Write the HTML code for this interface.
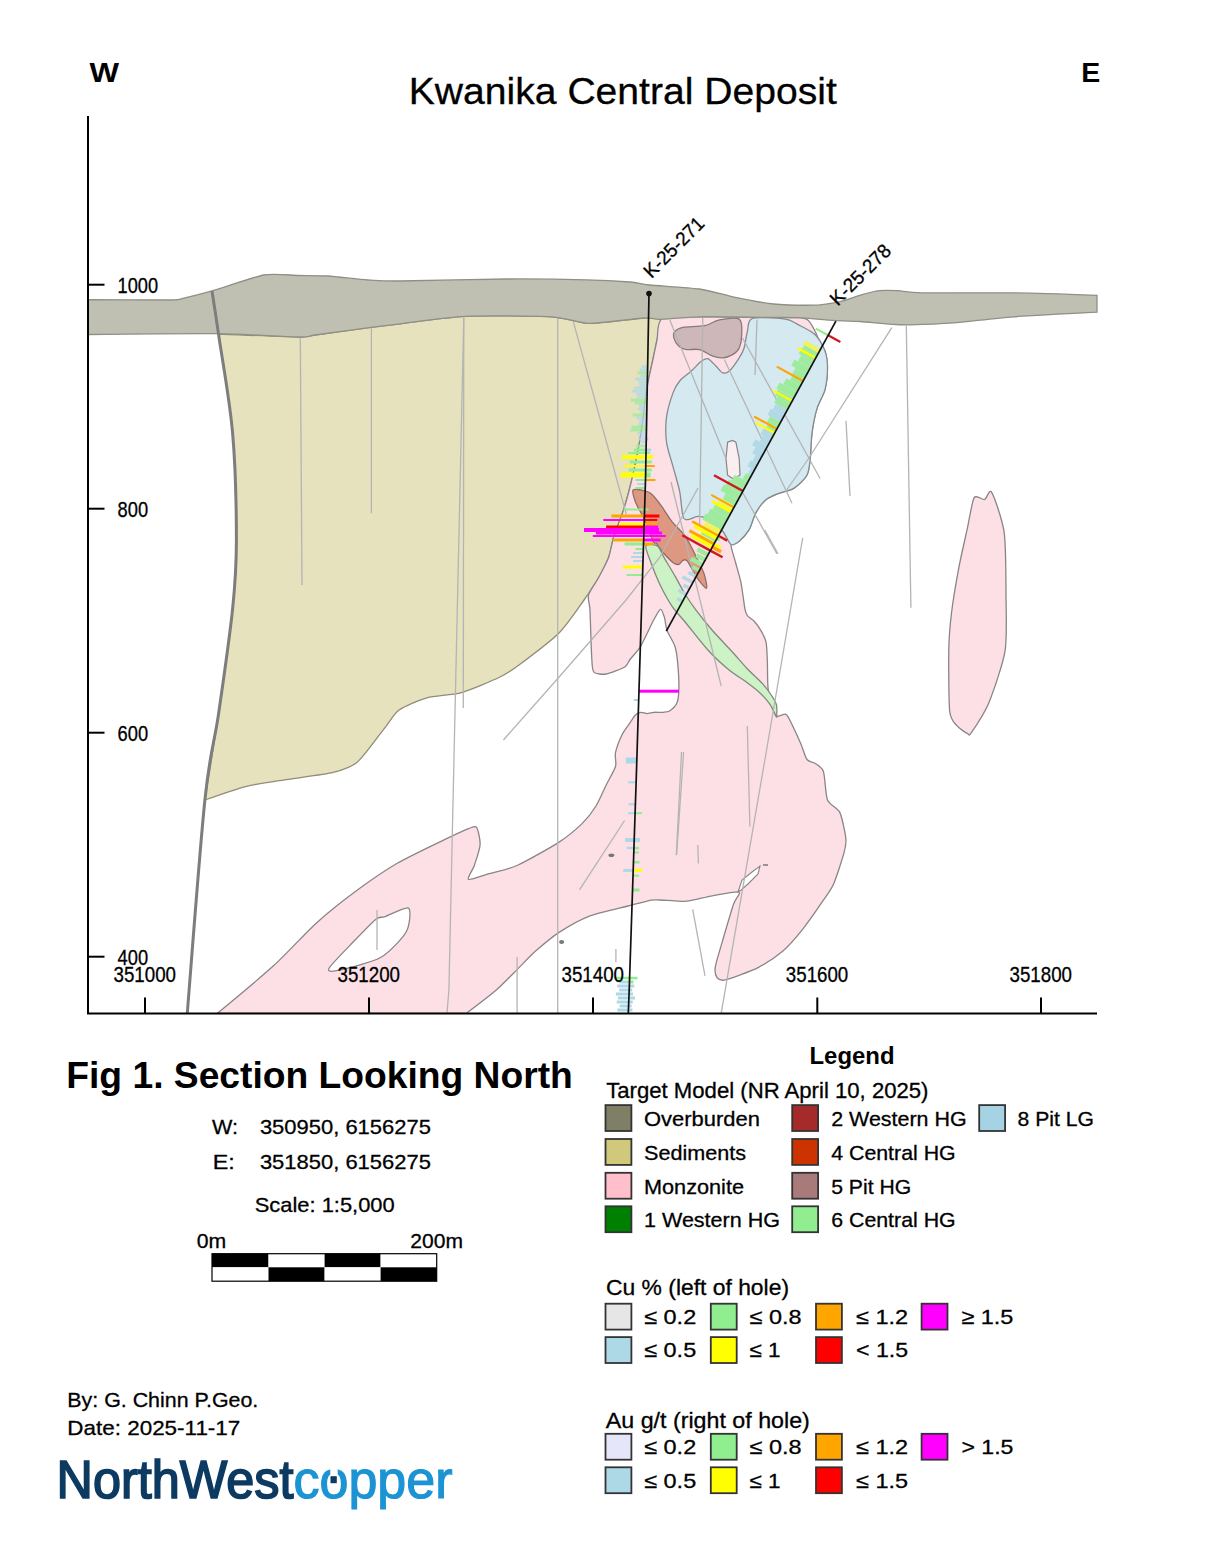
<!DOCTYPE html>
<html><head><meta charset="utf-8"><style>
html,body{margin:0;padding:0;background:#fff;}
body{width:1211px;height:1567px;overflow:hidden;}
svg{display:block;}
text{font-family:"Liberation Sans",sans-serif;}
</style></head><body>
<svg width="1211" height="1567" viewBox="0 0 1211 1567">
<rect width="1211" height="1567" fill="#fff"/>
<path d="M218.5,334.0 C218.5,334.0 286.9,336.9 299.0,337.0 C311.1,337.1 306.0,336.2 315.0,335.0 C324.0,333.8 360.4,328.8 371.0,327.4 C381.6,326.0 388.2,325.2 400.0,323.8 C411.8,322.4 446.0,317.2 465.0,316.3 C484.0,315.4 536.5,315.9 552.0,316.8 C567.5,317.7 577.5,323.2 589.0,323.4 C600.5,323.5 634.9,318.6 644.0,318.0 C653.1,317.4 662.0,318.8 662.0,318.8 C662.0,318.8 658.1,334.9 657.0,340.0 C655.9,345.1 654.1,353.9 652.8,360.0 C651.5,366.1 648.0,381.4 646.7,389.0 C645.5,396.6 643.9,413.4 642.8,421.0 C641.7,428.6 639.7,441.9 638.2,449.6 C636.7,457.4 632.9,475.3 631.0,483.0 C629.1,490.7 625.2,504.8 623.0,511.5 C620.8,518.2 615.5,531.2 613.7,537.0 C611.9,542.8 610.5,552.4 608.6,557.5 C606.7,562.6 601.5,572.7 598.4,578.0 C595.3,583.3 588.9,593.1 584.0,600.0 C579.1,606.9 567.1,624.9 559.0,633.0 C550.9,641.1 526.4,659.5 519.0,665.0 C511.6,670.5 507.2,673.5 500.0,677.0 C492.8,680.5 470.6,690.0 461.5,692.6 C452.4,695.2 434.7,695.6 426.9,697.8 C419.1,700.0 404.3,706.3 399.1,710.0 C393.9,713.7 390.4,720.8 385.2,727.3 C380.0,733.8 364.0,756.4 357.5,762.0 C351.0,767.6 341.9,770.2 333.2,772.4 C324.5,774.6 298.9,777.6 288.1,779.3 C277.3,781.0 256.9,783.7 246.5,786.3 C236.1,788.9 204.9,800.0 204.9,800.0 C204.9,800.0 215.2,736.9 218.7,713.0 C222.2,689.1 230.4,630.6 232.6,609.0 C234.8,587.4 236.4,562.0 236.4,540.0 C236.4,518.0 234.8,458.8 232.6,433.0 C230.4,407.2 218.5,334.0 218.5,334.0Z" fill="#e6e2bd" stroke="#8f8c78" stroke-width="1.3"/>
<path d="M662.0,318.8 C667.3,315.9 689.8,317.1 699.4,316.8 C709.0,316.6 726.7,316.7 739.0,316.8 C751.3,316.9 789.3,317.2 798.0,317.7 C806.7,318.2 806.4,319.0 808.5,320.7 C810.6,322.4 813.8,328.7 815.2,331.5 C816.7,334.3 818.9,340.5 820.1,343.0 C821.3,345.5 824.2,348.2 825.1,351.3 C826.0,354.4 827.5,363.1 827.5,367.8 C827.5,372.6 826.4,384.1 825.1,389.3 C823.8,394.5 818.4,403.5 816.8,409.1 C815.1,414.7 812.7,427.7 811.9,433.9 C811.1,440.1 810.8,453.4 810.2,458.6 C809.6,463.8 809.0,471.5 806.9,475.2 C804.8,478.9 797.2,486.1 793.7,488.4 C790.2,490.7 782.3,491.9 778.8,493.3 C775.3,494.7 768.5,497.4 765.6,499.9 C762.7,502.4 757.8,509.4 755.7,513.1 C753.6,516.8 751.2,526.2 749.1,529.7 C747.0,533.2 741.5,539.4 739.2,541.2 C736.9,543.1 731.4,541.8 731.0,544.5 C730.6,547.2 734.5,558.2 735.7,563.0 C737.0,567.8 739.8,577.0 741.0,582.8 C742.2,588.6 744.2,605.2 745.0,609.3 C745.8,613.4 746.5,614.4 747.6,615.9 C748.8,617.4 752.6,619.4 754.2,621.2 C755.9,623.0 759.3,627.8 760.8,630.4 C762.3,633.0 765.3,638.3 766.1,642.3 C766.9,646.3 767.1,656.3 767.4,662.1 C767.6,667.9 767.4,682.7 768.1,688.5 C768.8,694.3 771.6,704.9 772.7,708.4 C773.8,711.9 775.0,715.6 776.6,716.3 C778.2,717.0 784.1,713.5 785.9,714.3 C787.7,715.1 789.2,718.9 791.0,722.5 C792.8,726.1 798.5,738.4 800.5,743.0 C802.5,747.6 805.2,757.0 807.0,759.5 C808.8,762.0 813.0,761.8 815.0,763.3 C817.0,764.8 821.8,766.9 823.4,771.5 C825.0,776.1 825.5,794.9 827.5,800.0 C829.5,805.1 837.5,807.5 839.8,812.4 C842.1,817.3 845.4,833.8 845.9,838.9 C846.4,844.0 845.4,847.6 843.9,853.2 C842.4,858.8 836.2,878.0 833.6,883.9 C831.0,889.8 827.2,894.6 823.4,900.2 C819.6,905.8 808.1,922.4 803.0,928.8 C797.9,935.2 788.2,946.4 782.6,951.3 C777.0,956.1 765.1,964.0 758.0,967.6 C750.9,971.2 730.5,978.6 725.4,979.9 C720.3,981.2 718.5,979.3 717.2,977.8 C715.9,976.3 714.7,971.7 715.2,967.6 C715.7,963.5 719.0,953.0 721.3,945.1 C723.6,937.2 731.3,910.9 733.5,904.3 C735.7,897.7 741.5,893.0 738.7,892.0 C735.9,891.0 717.5,895.0 711.0,896.1 C704.5,897.2 693.0,900.7 686.6,901.2 C680.2,901.7 664.4,900.1 660.0,900.0 C655.6,899.9 655.2,899.5 651.2,900.2 C647.2,901.0 635.9,904.0 628.1,906.0 C620.3,908.0 597.5,913.1 588.8,916.4 C580.1,919.7 565.4,928.3 558.7,932.6 C552.1,936.9 540.8,946.5 535.6,951.1 C530.4,955.7 522.0,964.7 517.1,969.6 C512.2,974.5 502.6,984.5 496.3,990.0 C490.0,995.5 466.4,1013.3 466.4,1013.3 C466.4,1013.3 217.4,1013.3 217.4,1013.3 C217.4,1013.3 260.8,977.4 273.2,966.1 C285.6,954.8 305.5,932.9 316.2,923.2 C326.9,913.5 348.9,896.3 359.1,888.8 C369.3,881.3 387.0,869.2 397.7,863.0 C408.4,856.8 436.1,843.7 445.0,839.4 C453.9,835.1 464.7,830.1 468.6,828.6 C472.6,827.1 475.2,825.4 476.6,827.4 C478.0,829.4 480.4,839.9 480.1,844.7 C479.8,849.5 475.7,861.2 474.3,865.5 C472.9,869.8 466.7,878.4 468.6,879.4 C470.5,880.4 483.3,875.3 489.4,873.6 C495.5,871.9 508.4,869.4 517.1,865.5 C525.8,861.6 550.6,847.6 558.7,842.4 C566.8,837.2 577.1,828.4 581.8,823.9 C586.5,819.4 593.0,810.9 596.0,806.0 C599.0,801.1 603.8,789.9 606.2,785.0 C608.6,780.1 614.3,770.5 615.5,766.5 C616.7,762.5 614.6,756.7 615.5,752.6 C616.4,748.5 620.6,737.7 622.4,734.0 C624.2,730.3 628.4,725.3 630.0,722.9 C631.6,720.5 634.0,716.3 635.3,715.0 C636.6,713.7 639.1,712.5 640.6,712.3 C642.1,712.1 645.6,713.6 647.2,713.6 C648.9,713.6 651.8,712.5 653.8,712.3 C655.8,712.1 661.0,712.5 663.0,712.3 C665.0,712.1 667.9,712.1 669.6,711.0 C671.3,709.9 675.7,705.9 676.9,703.1 C678.1,700.3 678.8,693.6 678.9,688.5 C679.0,683.4 678.1,667.4 677.6,662.1 C677.1,656.8 676.2,650.3 674.9,646.3 C673.6,642.3 668.3,634.0 667.0,630.4 C665.7,626.8 665.2,619.8 664.4,617.2 C663.6,614.6 661.7,609.0 660.4,609.3 C659.1,609.6 656.3,615.2 653.8,619.8 C651.3,624.4 643.6,641.3 640.6,646.3 C637.6,651.3 632.0,656.9 630.0,659.5 C628.0,662.1 627.7,665.2 624.7,667.0 C621.7,668.8 610.0,673.3 606.2,674.0 C602.5,674.7 596.4,673.7 594.7,672.8 C593.0,671.9 592.8,670.4 592.4,667.0 C592.0,663.6 591.5,653.1 591.2,646.0 C590.9,638.9 590.3,616.4 590.0,610.0 C589.7,603.6 587.5,599.0 588.5,595.0 C589.5,591.0 595.9,582.7 598.4,578.0 C600.9,573.3 606.7,562.6 608.6,557.5 C610.5,552.4 611.9,542.8 613.7,537.0 C615.5,531.2 620.8,518.2 623.0,511.5 C625.2,504.8 629.1,490.7 631.0,483.0 C632.9,475.3 636.7,457.4 638.2,449.6 C639.7,441.9 641.7,428.6 642.8,421.0 C643.9,413.4 645.5,396.6 646.7,389.0 C648.0,381.4 651.5,366.1 652.8,360.0 C654.1,353.9 655.9,345.1 657.0,340.0 C658.1,334.9 656.7,321.7 662.0,318.8Z" fill="#fde0e6" stroke="#8a8486" stroke-width="1.3"/>
<path d="M408.5,908.1 C411.2,910.0 409.8,925.5 406.3,931.7 C402.8,937.9 389.2,952.7 380.6,957.5 C372.0,962.3 344.1,969.1 337.6,970.4 C331.2,971.7 326.9,972.0 329.0,968.2 C331.1,964.4 348.9,946.5 354.8,940.3 C360.7,934.1 372.5,921.8 376.3,918.9 C380.1,916.0 380.9,918.1 384.9,916.7 C388.9,915.4 405.8,906.2 408.5,908.1Z" fill="#ffffff" stroke="#8a8486" stroke-width="1.3"/>
<polygon points="738.0,892.0 742.0,880.0 752.0,872.0 760.0,866.0 758.0,874.0 748.0,884.0 741.0,890.0" fill="#ffffff" stroke="#8a8486" stroke-width="1.1"/>
<path d="M974.2,497.7 C976.3,494.2 982.4,500.2 984.6,499.5 C986.8,498.8 989.2,488.2 991.7,492.3 C994.2,496.4 1002.4,519.8 1004.2,532.6 C1006.0,545.5 1005.9,580.4 1006.0,595.1 C1006.1,609.9 1007.2,637.2 1005.1,650.6 C1003.0,664.0 993.2,692.1 989.0,702.4 C984.8,712.7 973.9,728.9 971.2,732.8 C968.5,736.7 969.4,734.6 967.6,733.7 C965.8,732.8 959.1,728.4 956.9,725.6 C954.7,722.8 950.7,720.9 949.7,711.3 C948.7,701.7 948.6,661.1 948.8,648.8 C949.0,636.5 950.3,623.1 951.5,613.0 C952.7,602.9 956.7,579.0 958.7,568.3 C960.7,557.6 965.7,536.0 967.6,527.2 C969.5,518.4 972.1,501.2 974.2,497.7Z" fill="#fde0e6" stroke="#8a8486" stroke-width="1.3"/>
<path d="M752.4,318.3 C757.8,316.5 778.8,318.2 785.4,319.1 C792.0,320.0 794.3,322.7 798.6,324.9 C802.9,327.1 811.4,331.0 815.2,334.8 C819.0,338.6 823.3,346.6 825.1,351.3 C826.9,356.0 827.5,362.4 827.5,367.8 C827.5,373.2 826.6,383.4 825.1,389.3 C823.6,395.2 818.7,402.7 816.8,409.1 C814.9,415.5 812.8,426.8 811.9,433.9 C811.0,441.0 810.9,452.7 810.2,458.6 C809.5,464.5 809.3,470.9 806.9,475.2 C804.5,479.5 797.7,485.8 793.7,488.4 C789.7,491.0 782.8,491.7 778.8,493.3 C774.8,494.9 768.9,497.1 765.6,499.9 C762.3,502.7 758.1,508.8 755.7,513.1 C753.3,517.4 751.5,525.7 749.1,529.7 C746.7,533.7 741.8,539.1 739.2,541.2 C736.6,543.3 733.4,545.9 731.0,544.5 C728.6,543.1 725.8,534.8 722.7,531.3 C719.6,527.8 713.0,521.8 709.5,519.7 C706.0,517.6 701.0,516.4 697.9,516.4 C694.8,516.4 690.1,519.7 688.0,519.7 C685.9,519.7 684.2,520.4 683.0,516.4 C681.8,512.4 681.1,498.8 679.7,491.7 C678.3,484.6 675.0,474.0 673.1,466.9 C671.2,459.8 667.4,449.2 666.5,442.1 C665.6,435.0 665.6,424.4 666.5,417.3 C667.4,410.2 671.2,397.8 673.1,392.6 C675.0,387.4 677.1,384.1 679.7,381.0 C682.3,377.9 688.2,373.9 691.3,371.1 C694.4,368.3 698.8,363.0 701.2,361.2 C703.6,359.4 705.7,358.0 707.8,358.7 C709.9,359.4 714.0,364.2 716.1,366.2 C718.2,368.2 720.8,372.1 722.7,372.8 C724.6,373.5 726.9,373.2 729.3,371.1 C731.7,369.0 737.1,361.2 739.2,357.9 C741.3,354.6 742.9,351.8 744.1,348.0 C745.3,344.2 746.2,335.7 747.4,331.5 C748.6,327.3 747.0,320.1 752.4,318.3Z" fill="#d5e9f1" stroke="#858b8e" stroke-width="1.3"/>
<polygon points="727.6,442.1 732.6,440.5 735.9,442.1 739.2,458.6 740.0,475.2 732.6,478.5 727.6,475.2 726.0,458.6" fill="#fbeef1" stroke="#8a8486" stroke-width="1.2"/>
<path d="M673.9,338.1 C673.2,335.6 673.3,333.3 674.8,331.5 C676.3,329.7 678.0,328.3 683.0,327.3 C688.0,326.3 698.4,326.9 704.5,325.7 C710.6,324.5 713.6,321.0 719.4,319.9 C725.2,318.8 735.5,316.6 739.2,319.1 C742.9,321.6 741.7,330.0 741.7,334.8 C741.7,339.6 740.7,344.7 739.2,348.0 C737.7,351.3 735.4,353.0 732.6,354.6 C729.9,356.2 726.0,357.6 722.7,357.9 C719.4,358.2 716.7,357.6 712.8,356.2 C708.9,354.8 703.9,350.7 699.5,349.6 C695.1,348.5 689.7,350.2 686.3,349.6 C682.9,349.1 681.0,348.2 678.9,346.3 C676.8,344.4 674.6,340.6 673.9,338.1Z" fill="#ceb7b9" stroke="#877a7c" stroke-width="1.3"/>
<path d="M633.1,490.0 C634.5,488.5 642.4,490.4 645.0,491.0 C647.6,491.6 649.1,491.8 651.5,494.0 C653.9,496.2 658.8,502.4 661.7,506.4 C664.6,510.4 668.6,517.4 672.0,521.7 C675.4,526.0 682.1,531.6 685.5,536.6 C688.9,541.6 693.4,551.1 696.0,556.4 C698.6,561.7 702.5,569.1 704.0,573.6 C705.5,578.1 707.4,587.2 706.6,588.1 C705.8,589.0 701.0,583.2 698.7,580.2 C696.4,577.2 692.5,569.8 690.8,567.0 C689.1,564.2 687.9,561.3 686.8,560.4 C685.7,559.5 683.9,559.8 682.8,560.4 C681.7,561.0 680.2,563.9 678.9,564.3 C677.6,564.7 675.9,564.7 673.6,563.0 C671.3,561.3 665.5,555.3 663.0,552.5 C660.5,549.7 657.8,544.7 656.4,543.2 C655.0,541.7 655.1,545.2 653.5,542.1 C651.9,539.0 647.3,526.1 645.4,521.7 C643.5,517.3 641.8,514.4 640.3,511.5 C638.8,508.6 636.2,504.4 635.2,501.3 C634.2,498.2 631.7,491.5 633.1,490.0Z" fill="#de9881" stroke="#8c7066" stroke-width="1.3"/>
<path d="M645.9,545.9 C645.0,548.3 649.0,557.3 651.1,563.0 C653.2,568.7 657.4,579.3 660.4,585.5 C663.4,591.7 668.7,601.3 672.3,606.6 C675.9,611.9 680.2,616.1 685.5,622.5 C690.8,628.9 703.1,644.7 709.3,651.5 C715.5,658.3 723.8,665.6 729.1,670.0 C734.4,674.4 742.0,678.8 746.3,682.0 C750.6,685.2 756.1,689.3 759.5,692.5 C762.9,695.7 767.6,700.8 770.0,704.4 C772.4,708.0 776.6,717.6 776.6,717.6 C776.6,717.6 777.2,708.2 776.5,705.0 C775.8,701.8 773.5,698.6 771.5,695.5 C769.5,692.4 766.0,687.5 762.5,683.6 C759.0,679.7 751.4,673.2 747.0,668.5 C742.6,663.8 736.5,656.5 731.5,651.0 C726.5,645.5 716.9,635.6 711.8,629.7 C706.7,623.8 699.6,615.0 695.8,609.9 C692.0,604.8 687.9,598.7 685.0,594.0 C682.1,589.3 678.4,582.0 675.5,576.9 C672.6,571.8 667.1,562.8 664.5,558.4 C661.9,554.0 660.1,547.7 657.4,545.9 C654.7,544.1 646.8,543.5 645.9,545.9Z" fill="#cdf2c5" stroke="#7e8a7c" stroke-width="1.3"/>
<polyline points="300.3,337.0 302.0,585.0" fill="none" stroke="#b4b4b4" stroke-width="1.3"/>
<polyline points="371.4,326.0 371.4,513.0" fill="none" stroke="#b4b4b4" stroke-width="1.3"/>
<polyline points="463.8,317.8 463.3,708.0" fill="none" stroke="#b4b4b4" stroke-width="1.3"/>
<polyline points="463.8,317.8 453.5,780.0 448.9,990.0 447.0,1013.0" fill="none" stroke="#b4b4b4" stroke-width="1.3"/>
<polyline points="557.7,317.8 557.7,1013.0" fill="none" stroke="#b4b4b4" stroke-width="1.3"/>
<polyline points="572.8,319.8 626.3,514.0" fill="none" stroke="#b4b4b4" stroke-width="1.3"/>
<polyline points="503.4,740.0 560.0,676.0 626.0,600.0 660.0,557.0 698.0,488.0" fill="none" stroke="#b4b4b4" stroke-width="1.3"/>
<polyline points="377.0,910.0 377.0,950.0" fill="none" stroke="#b4b4b4" stroke-width="1.3"/>
<polyline points="671.0,482.0 721.2,686.0" fill="none" stroke="#b4b4b4" stroke-width="1.3"/>
<polyline points="702.8,318.0 699.5,530.0" fill="none" stroke="#b4b4b4" stroke-width="1.3"/>
<polyline points="724.3,359.5 792.0,503.2" fill="none" stroke="#b4b4b4" stroke-width="1.3"/>
<polyline points="669.8,319.9 726.0,458.6" fill="none" stroke="#b4b4b4" stroke-width="1.3"/>
<polyline points="742.5,338.0 820.1,478.5" fill="none" stroke="#b4b4b4" stroke-width="1.3"/>
<polyline points="757.0,319.8 755.0,375.0" fill="none" stroke="#b4b4b4" stroke-width="1.3"/>
<polyline points="741.2,490.0 776.9,553.7" fill="none" stroke="#b4b4b4" stroke-width="1.3"/>
<polyline points="764.8,530.0 778.0,553.8" fill="none" stroke="#b4b4b4" stroke-width="1.3"/>
<polyline points="891.8,327.7 808.6,458.5 786.0,491.0" fill="none" stroke="#b4b4b4" stroke-width="1.3"/>
<polyline points="906.3,326.0 910.9,607.7" fill="none" stroke="#b4b4b4" stroke-width="1.3"/>
<polyline points="846.0,420.9 850.0,496.0" fill="none" stroke="#b4b4b4" stroke-width="1.3"/>
<polyline points="802.7,537.8 770.0,730.0 721.3,1012.6" fill="none" stroke="#b4b4b4" stroke-width="1.3"/>
<polyline points="747.3,726.0 749.9,826.7" fill="none" stroke="#b4b4b4" stroke-width="1.3"/>
<polyline points="683.6,752.0 676.6,855.0" fill="none" stroke="#b4b4b4" stroke-width="1.3"/>
<polyline points="681.5,752.0 676.3,855.3" fill="none" stroke="#b4b4b4" stroke-width="1.3"/>
<polyline points="697.8,845.0 698.4,863.4" fill="none" stroke="#b4b4b4" stroke-width="1.3"/>
<polyline points="692.7,909.4 705.0,975.8" fill="none" stroke="#b4b4b4" stroke-width="1.3"/>
<polyline points="624.6,820.5 579.5,889.8" fill="none" stroke="#b4b4b4" stroke-width="1.3"/>
<polyline points="615.9,949.0 615.9,962.3" fill="none" stroke="#b4b4b4" stroke-width="1.3"/>
<polyline points="517.1,956.9 517.1,1013.0" fill="none" stroke="#b4b4b4" stroke-width="1.3"/>
<ellipse cx="611.4" cy="855.2" rx="3" ry="1.8" fill="#777"/><ellipse cx="561.6" cy="942" rx="2.5" ry="2" fill="#777"/><line x1="763" y1="865" x2="768" y2="865" stroke="#777" stroke-width="1.5"/>
<path d="M88.0,299.6 C88.0,299.6 158.2,300.1 170.0,300.0 C181.8,299.9 176.6,299.8 182.0,298.6 C187.4,297.4 202.8,293.6 213.0,290.7 C223.2,287.8 253.2,276.9 264.0,275.0 C274.8,273.1 291.0,275.4 299.0,275.5 C307.0,275.6 319.4,275.4 328.0,276.0 C336.6,276.6 359.0,279.4 368.0,280.0 C377.0,280.6 382.6,281.1 400.0,281.0 C417.4,280.9 483.8,279.1 507.0,279.0 C530.2,278.9 570.6,279.4 586.0,279.8 C601.4,280.2 622.1,281.4 630.0,282.0 C637.9,282.6 640.3,284.1 649.0,285.0 C657.7,285.9 688.8,287.5 699.4,289.0 C710.0,290.5 724.8,295.2 734.0,297.1 C743.2,299.0 763.3,303.0 773.4,304.0 C783.5,305.0 807.5,305.3 815.0,305.2 C822.5,305.1 829.6,303.5 833.5,302.9 C837.4,302.2 842.5,301.0 846.0,300.0 C849.5,299.0 857.0,296.0 861.2,294.8 C865.4,293.6 875.1,291.1 879.7,290.6 C884.3,290.1 892.7,290.4 898.0,290.7 C903.3,291.0 907.5,292.6 922.0,292.9 C936.5,293.2 992.1,292.6 1014.0,292.9 C1035.9,293.2 1097.0,295.3 1097.0,295.3 C1097.0,295.3 1097.0,312.2 1097.0,312.2 C1097.0,312.2 1032.0,315.5 1014.0,316.8 C996.0,318.1 966.0,321.9 953.0,322.9 C940.0,323.9 917.6,324.7 910.0,324.9 C902.4,325.1 898.2,324.8 892.0,324.4 C885.8,324.0 866.8,322.0 860.0,321.5 C853.2,321.0 845.8,321.2 838.0,320.7 C830.2,320.2 806.7,318.1 798.0,317.7 C789.3,317.3 781.0,317.6 768.7,317.5 C756.4,317.4 713.0,316.6 699.4,316.8 C685.8,317.0 666.9,319.2 660.0,319.3 C653.1,319.4 652.9,317.5 644.0,318.0 C635.1,318.5 600.5,323.5 589.0,323.4 C577.5,323.2 567.5,317.7 552.0,316.8 C536.5,315.9 484.0,315.4 465.0,316.3 C446.0,317.2 411.8,322.4 400.0,323.8 C388.2,325.2 381.6,326.0 371.0,327.4 C360.4,328.8 324.0,333.8 315.0,335.0 C306.0,336.2 311.2,337.2 299.0,337.0 C286.8,336.8 243.9,334.0 217.5,333.7 C191.1,333.4 88.0,334.5 88.0,334.5 C88.0,334.5 88.0,299.6 88.0,299.6Z" fill="#c0c0b2" stroke="#8f8f85" stroke-width="1.3"/>
<path d="M212.0,291.0 C213.1,298.2 215.1,310.3 218.5,334.0 C221.9,357.7 229.6,398.7 232.6,433.0 C235.6,467.3 236.4,510.7 236.4,540.0 C236.4,569.3 235.6,580.2 232.6,609.0 C229.6,637.8 223.3,681.2 218.7,713.0 C214.1,744.8 210.1,750.0 204.9,800.0 C199.7,850.0 190.2,977.5 187.3,1013.0" fill="none" stroke="#7d7d7d" stroke-width="3"/>
<rect x="641.6" y="365.5" width="6.0" height="3" fill="#b3d9e6" fill-opacity="0.8"/>
<rect x="639.6" y="368.5" width="8.0" height="3" fill="#b3d9e6" fill-opacity="0.8"/>
<rect x="637.5" y="371.5" width="10.0" height="3" fill="#9eeb9e" fill-opacity="0.8"/>
<rect x="640.5" y="374.5" width="7.0" height="3" fill="#b3d9e6" fill-opacity="0.8"/>
<rect x="635.4" y="377.5" width="12.0" height="3" fill="#b3d9e6" fill-opacity="0.8"/>
<rect x="638.3" y="380.5" width="9.0" height="3" fill="#b3d9e6" fill-opacity="0.8"/>
<rect x="639.3" y="383.5" width="8.0" height="3" fill="#b3d9e6" fill-opacity="0.8"/>
<rect x="634.2" y="386.5" width="13.0" height="3" fill="#b3d9e6" fill-opacity="0.8"/>
<rect x="632.2" y="389.5" width="15.0" height="3" fill="#b3d9e6" fill-opacity="0.8"/>
<rect x="636.1" y="392.5" width="11.0" height="3" fill="#b3d9e6" fill-opacity="0.8"/>
<rect x="637.1" y="395.5" width="10.0" height="3" fill="#b3d9e6" fill-opacity="0.8"/>
<rect x="631.0" y="398.5" width="16.0" height="3" fill="#9eeb9e" fill-opacity="0.8"/>
<rect x="634.9" y="401.5" width="12.0" height="3" fill="#9eeb9e" fill-opacity="0.8"/>
<rect x="638.9" y="404.5" width="8.0" height="3" fill="#b3d9e6" fill-opacity="0.8"/>
<rect x="637.8" y="407.5" width="9.0" height="3" fill="#b3d9e6" fill-opacity="0.8"/>
<rect x="640.8" y="410.5" width="6.0" height="3" fill="#b3d9e6" fill-opacity="0.8"/>
<rect x="632.7" y="413.5" width="14.0" height="3" fill="#9eeb9e" fill-opacity="0.8"/>
<rect x="636.7" y="416.5" width="10.0" height="3" fill="#b3d9e6" fill-opacity="0.8"/>
<rect x="639.6" y="419.5" width="7.0" height="3" fill="#b3d9e6" fill-opacity="0.8"/>
<rect x="638.6" y="422.5" width="8.0" height="3" fill="#b3d9e6" fill-opacity="0.8"/>
<rect x="631.5" y="425.5" width="15.0" height="3" fill="#9eeb9e" fill-opacity="0.8"/>
<rect x="630.4" y="428.5" width="16.0" height="3" fill="#9eeb9e" fill-opacity="0.8"/>
<rect x="637.4" y="431.5" width="9.0" height="3" fill="#b3d9e6" fill-opacity="0.8"/>
<rect x="640.3" y="434.5" width="6.0" height="3" fill="#b3d9e6" fill-opacity="0.8"/>
<rect x="638.3" y="437.5" width="8.0" height="3" fill="#b3d9e6" fill-opacity="0.8"/>
<rect x="646.3" y="437.5" width="2.0" height="3" fill="#add8e6"/>
<rect x="641.2" y="440.5" width="5.0" height="3" fill="#b3d9e6" fill-opacity="0.8"/>
<rect x="636.1" y="444.5" width="10.0" height="3" fill="#9eeb9e" fill-opacity="0.8"/>
<rect x="634.1" y="448.5" width="12.0" height="3" fill="#90ee90" fill-opacity="1"/>
<rect x="646.1" y="448.5" width="5.0" height="3" fill="#add8e6"/>
<rect x="628.0" y="452.0" width="18.0" height="2" fill="#90ee90" fill-opacity="1"/>
<rect x="646.0" y="452.0" width="4.0" height="2" fill="#90ee90"/>
<rect x="621.9" y="455.0" width="24.0" height="4" fill="#ffff00" fill-opacity="1"/>
<rect x="645.9" y="455.0" width="7.0" height="4" fill="#ffff00"/>
<rect x="629.8" y="460.5" width="16.0" height="3" fill="#90ee90" fill-opacity="1"/>
<rect x="645.8" y="460.5" width="6.0" height="3" fill="#90ee90"/>
<rect x="623.8" y="465.0" width="22.0" height="2" fill="#ffff00" fill-opacity="1"/>
<rect x="645.8" y="465.0" width="9.0" height="2" fill="#ffa500"/>
<rect x="628.7" y="468.5" width="17.0" height="3" fill="#90ee90" fill-opacity="1"/>
<rect x="645.7" y="468.5" width="6.0" height="3" fill="#90ee90"/>
<rect x="620.6" y="472.5" width="25.0" height="5" fill="#ffff00" fill-opacity="1"/>
<rect x="645.6" y="472.5" width="5.0" height="5" fill="#90ee90"/>
<rect x="635.5" y="479.0" width="10.0" height="2" fill="#90ee90" fill-opacity="1"/>
<rect x="645.5" y="479.0" width="10.0" height="2" fill="#ffa500"/>
<rect x="637.4" y="483.0" width="8.0" height="2" fill="#add8e6" fill-opacity="1"/>
<rect x="635.3" y="487.0" width="10.0" height="2" fill="#90ee90" fill-opacity="1"/>
<rect x="623.6" y="508.5" width="21.0" height="2" fill="#90ee90" fill-opacity="1"/>
<rect x="644.6" y="508.5" width="4.0" height="2" fill="#90ee90"/>
<rect x="611.4" y="514.5" width="33.0" height="3" fill="#ffa500" fill-opacity="1"/>
<rect x="644.4" y="514.5" width="15.0" height="3" fill="#ff0000"/>
<rect x="603.3" y="519.0" width="41.0" height="2" fill="#ff00ff" fill-opacity="1"/>
<rect x="644.3" y="519.0" width="13.0" height="2" fill="#ff0000"/>
<rect x="619.1" y="522.5" width="25.0" height="3" fill="#ffff00" fill-opacity="1"/>
<rect x="644.1" y="522.5" width="13.0" height="3" fill="#ffa500"/>
<rect x="606.1" y="525.5" width="38.0" height="3" fill="#ff0000" fill-opacity="1"/>
<rect x="644.1" y="525.5" width="14.0" height="3" fill="#ff00ff"/>
<rect x="584.0" y="528.0" width="60.0" height="4" fill="#ff00ff" fill-opacity="1"/>
<rect x="644.0" y="528.0" width="15.0" height="4" fill="#ff00ff"/>
<rect x="595.9" y="531.5" width="48.0" height="3" fill="#ff00ff" fill-opacity="1"/>
<rect x="643.9" y="531.5" width="18.0" height="3" fill="#ff00ff"/>
<rect x="592.8" y="535.0" width="51.0" height="2" fill="#ff00ff" fill-opacity="1"/>
<rect x="643.8" y="535.0" width="22.0" height="2" fill="#ff00ff"/>
<rect x="613.6" y="538.5" width="30.0" height="3" fill="#ffa500" fill-opacity="1"/>
<rect x="643.6" y="538.5" width="17.0" height="3" fill="#ff00ff"/>
<rect x="624.5" y="542.5" width="19.0" height="3" fill="#90ee90" fill-opacity="1"/>
<rect x="643.5" y="542.5" width="10.0" height="3" fill="#ffa500"/>
<rect x="635.4" y="548.0" width="8.0" height="2" fill="#90ee90" fill-opacity="1"/>
<rect x="633.2" y="552.0" width="10.0" height="2" fill="#add8e6" fill-opacity="1"/>
<rect x="631.1" y="556.0" width="12.0" height="2" fill="#add8e6" fill-opacity="1"/>
<rect x="633.0" y="560.0" width="10.0" height="2" fill="#add8e6" fill-opacity="1"/>
<rect x="622.8" y="565.5" width="20.0" height="3" fill="#ffff00" fill-opacity="1"/>
<rect x="626.6" y="574.0" width="16.0" height="2" fill="#90ee90" fill-opacity="1"/>
<rect x="639.0" y="689.7" width="40.0" height="3" fill="#ff00ff"/>
<rect x="633.7" y="699.0" width="5.0" height="2" fill="#add8e6" fill-opacity="1"/>
<rect x="625.8" y="757.5" width="11.0" height="6" fill="#add8e6" fill-opacity="1"/>
<rect x="628.1" y="781.3" width="8.0" height="2" fill="#add8e6" fill-opacity="1"/>
<rect x="628.4" y="803.3" width="7.0" height="2" fill="#add8e6" fill-opacity="1"/>
<rect x="628.1" y="812.2" width="7.0" height="2" fill="#add8e6" fill-opacity="1"/>
<rect x="635.1" y="812.2" width="7.0" height="2" fill="#90ee90"/>
<rect x="625.2" y="838.0" width="9.0" height="4" fill="#add8e6" fill-opacity="1"/>
<rect x="634.2" y="838.0" width="6.0" height="4" fill="#add8e6"/>
<rect x="626.9" y="846.8" width="7.0" height="2.5" fill="#add8e6" fill-opacity="1"/>
<rect x="633.9" y="846.8" width="5.0" height="2.5" fill="#90ee90"/>
<rect x="633.8" y="851.5" width="5.0" height="2" fill="#90ee90"/>
<rect x="633.5" y="861.0" width="6.0" height="2.5" fill="#90ee90"/>
<rect x="623.2" y="868.9" width="10.0" height="3" fill="#add8e6" fill-opacity="1"/>
<rect x="633.2" y="868.9" width="9.0" height="3" fill="#ffff00"/>
<rect x="633.0" y="874.7" width="6.0" height="2" fill="#90ee90"/>
<rect x="632.5" y="888.5" width="7.0" height="3" fill="#90ee90"/>
<rect x="614.6" y="976.8" width="15.0" height="2.5" fill="#90ee90" fill-opacity="1"/>
<rect x="629.6" y="976.8" width="8.0" height="2.5" fill="#90ee90"/>
<rect x="619.5" y="980.5" width="10.0" height="3" fill="#add8e6" fill-opacity="1"/>
<rect x="629.5" y="980.5" width="4.0" height="3" fill="#90ee90"/>
<rect x="617.3" y="984.5" width="12.0" height="3" fill="#add8e6" fill-opacity="1"/>
<rect x="629.3" y="984.5" width="5.0" height="3" fill="#add8e6"/>
<rect x="619.2" y="988.5" width="10.0" height="3" fill="#add8e6" fill-opacity="1"/>
<rect x="629.2" y="988.5" width="3.0" height="3" fill="#add8e6"/>
<rect x="616.0" y="992.5" width="13.0" height="3" fill="#add8e6" fill-opacity="1"/>
<rect x="629.0" y="992.5" width="4.0" height="3" fill="#add8e6"/>
<rect x="617.9" y="996.5" width="11.0" height="3" fill="#add8e6" fill-opacity="1"/>
<rect x="628.9" y="996.5" width="6.0" height="3" fill="#add8e6"/>
<rect x="616.7" y="1000.5" width="12.0" height="3" fill="#add8e6" fill-opacity="1"/>
<rect x="628.7" y="1000.5" width="4.0" height="3" fill="#add8e6"/>
<rect x="619.6" y="1004.5" width="9.0" height="3" fill="#add8e6" fill-opacity="1"/>
<rect x="628.6" y="1004.5" width="3.0" height="3" fill="#add8e6"/>
<rect x="617.4" y="1008.5" width="11.0" height="3" fill="#add8e6" fill-opacity="1"/>
<rect x="628.4" y="1008.5" width="4.0" height="3" fill="#add8e6"/>
<polygon points="820.6,349.0 818.4,353.0 802.7,344.4 804.8,340.4" fill="#f2f25a"/>
<polygon points="818.4,353.0 816.8,356.0 802.8,348.3 804.4,345.3" fill="#9eeb9e"/>
<polygon points="816.8,356.0 813.5,362.0 798.6,353.8 801.9,347.8" fill="#9eeb9e"/>
<polygon points="813.5,362.0 810.2,368.0 798.0,361.3 801.2,355.3" fill="#9eeb9e"/>
<polygon points="810.2,368.0 807.0,374.0 791.2,365.4 794.4,359.4" fill="#9eeb9e"/>
<polygon points="807.0,374.0 803.7,380.0 792.3,373.8 795.6,367.8" fill="#9eeb9e"/>
<polygon points="803.7,380.0 800.4,386.0 789.9,380.2 793.1,374.2" fill="#9eeb9e"/>
<polygon points="800.4,386.0 797.1,392.0 783.1,384.3 786.4,378.3" fill="#9eeb9e"/>
<polygon points="797.1,392.0 793.8,398.0 776.3,388.4 779.6,382.4" fill="#9eeb9e"/>
<polygon points="793.8,398.0 790.5,404.0 774.8,395.4 778.0,389.4" fill="#9eeb9e"/>
<polygon points="790.5,404.0 787.3,410.0 774.1,402.8 777.4,396.8" fill="#9eeb9e"/>
<polygon points="787.3,410.0 784.0,416.0 772.6,409.8 775.9,403.8" fill="#b3d9e6"/>
<polygon points="784.0,416.0 780.7,422.0 767.5,414.8 770.8,408.8" fill="#b3d9e6"/>
<polygon points="780.7,422.0 777.4,428.0 766.9,422.2 770.2,416.2" fill="#9eeb9e"/>
<polygon points="777.4,428.0 774.1,434.0 765.4,429.2 768.6,423.2" fill="#9eeb9e"/>
<polygon points="774.1,434.0 770.9,440.0 760.3,434.2 763.6,428.2" fill="#b3d9e6"/>
<polygon points="770.9,440.0 767.6,446.0 759.7,441.7 763.0,435.7" fill="#b3d9e6"/>
<polygon points="767.6,446.0 764.3,452.0 752.0,445.3 755.3,439.3" fill="#b3d9e6"/>
<polygon points="764.3,452.0 761.0,458.0 752.2,453.2 755.5,447.2" fill="#b3d9e6"/>
<polygon points="761.0,458.0 757.7,464.0 752.5,461.1 755.7,455.1" fill="#b3d9e6"/>
<polygon points="757.7,464.0 754.4,470.0 747.4,466.2 750.7,460.2" fill="#b3d9e6"/>
<polygon points="754.4,470.0 751.2,476.0 747.6,474.1 750.9,468.1" fill="#b3d9e6"/>
<polygon points="751.2,476.0 747.9,482.0 742.6,479.1 745.9,473.1" fill="#9eeb9e"/>
<polygon points="747.9,482.0 744.6,488.0 731.4,480.8 734.7,474.8" fill="#9eeb9e"/>
<polygon points="744.6,488.0 741.3,494.0 725.5,485.4 728.8,479.4" fill="#9eeb9e"/>
<polygon points="741.3,494.0 738.0,500.0 720.5,490.4 723.8,484.4" fill="#9eeb9e"/>
<polygon points="738.0,500.0 734.7,506.0 722.5,499.3 725.7,493.3" fill="#9eeb9e"/>
<polygon points="734.7,506.0 731.5,512.0 717.4,504.3 720.7,498.3" fill="#f2f25a"/>
<polygon points="731.5,512.0 728.2,518.0 712.4,509.4 715.7,503.4" fill="#9eeb9e"/>
<polygon points="728.2,518.0 724.9,524.0 707.3,514.4 710.6,508.4" fill="#9eeb9e"/>
<polygon points="724.9,524.0 721.6,530.0 702.3,519.4 705.6,513.4" fill="#9eeb9e"/>
<polygon points="721.6,530.0 718.3,536.0 702.5,527.4 705.8,521.4" fill="#f2f25a"/>
<polygon points="718.3,536.0 715.0,542.0 701.0,534.3 704.3,528.3" fill="#9eeb9e"/>
<polygon points="715.0,542.0 711.8,548.0 696.0,539.4 699.3,533.4" fill="#f2f25a"/>
<polygon points="709.0,553.0 706.8,557.0 696.3,551.2 698.5,547.2" fill="#9eeb9e"/>
<polygon points="706.3,558.0 704.1,562.0 695.3,557.2 697.5,553.2" fill="#9eeb9e"/>
<polygon points="703.6,563.0 701.4,567.0 690.0,560.8 692.2,556.8" fill="#9eeb9e"/>
<polygon points="700.3,569.0 698.6,572.0 691.6,568.2 693.3,565.2" fill="#9eeb9e"/>
<polygon points="697.0,575.0 695.4,578.0 687.5,573.7 689.1,570.7" fill="#b3d9e6"/>
<polygon points="693.7,581.0 692.1,584.0 681.5,578.2 683.2,575.2" fill="#b3d9e6"/>
<polygon points="690.4,587.0 688.8,590.0 682.6,586.6 684.3,583.6" fill="#b3d9e6"/>
<polygon points="687.1,593.0 685.5,596.0 677.6,591.7 679.2,588.7" fill="#b3d9e6"/>
<polygon points="683.3,600.0 681.7,603.0 676.4,600.1 678.1,597.1" fill="#b3d9e6"/>
<line x1="828.1" y1="335.3" x2="815.8" y2="328.6" stroke="#90ee90" stroke-width="2.2"/>
<line x1="828.1" y1="335.3" x2="840.4" y2="342.0" stroke="#d2161e" stroke-width="2.2"/>
<line x1="815.7" y1="358.0" x2="798.2" y2="348.4" stroke="#ffff00" stroke-width="2.5"/>
<line x1="803.1" y1="381.0" x2="776.8" y2="366.6" stroke="#ffa500" stroke-width="2.2"/>
<line x1="792.2" y1="401.0" x2="772.9" y2="390.4" stroke="#ffff00" stroke-width="2.2"/>
<line x1="776.9" y1="429.0" x2="754.1" y2="416.5" stroke="#ffa500" stroke-width="2.2"/>
<line x1="774.7" y1="433.0" x2="755.4" y2="422.4" stroke="#ffff00" stroke-width="2.2"/>
<line x1="742.9" y1="491.0" x2="714.0" y2="475.2" stroke="#d2161e" stroke-width="2.4"/>
<line x1="734.0" y1="507.4" x2="711.2" y2="494.9" stroke="#ffa500" stroke-width="2.2"/>
<line x1="731.5" y1="512.0" x2="712.2" y2="501.4" stroke="#ffff00" stroke-width="3"/>
<line x1="718.4" y1="535.8" x2="692.1" y2="521.4" stroke="#ffa500" stroke-width="2.4"/>
<line x1="718.4" y1="535.8" x2="727.2" y2="540.6" stroke="#d2161e" stroke-width="2.4"/>
<line x1="717.0" y1="538.5" x2="694.2" y2="526.0" stroke="#ffff00" stroke-width="3.5"/>
<line x1="717.0" y1="538.5" x2="719.6" y2="539.9" stroke="#90ee90" stroke-width="3.5"/>
<line x1="714.0" y1="544.0" x2="689.4" y2="530.6" stroke="#ffa500" stroke-width="3"/>
<line x1="714.0" y1="544.0" x2="721.0" y2="547.8" stroke="#ffff00" stroke-width="3"/>
<line x1="712.3" y1="547.0" x2="691.3" y2="535.5" stroke="#ffff00" stroke-width="3.5"/>
<line x1="712.3" y1="547.0" x2="721.1" y2="551.8" stroke="#ffa500" stroke-width="3.5"/>
<line x1="710.3" y1="550.6" x2="682.3" y2="535.2" stroke="#d2161e" stroke-width="2.4"/>
<line x1="710.3" y1="550.6" x2="722.6" y2="557.3" stroke="#d2161e" stroke-width="2.4"/>
<polyline points="649.0,293.6 645.5,480.0 641.8,600.0 636.2,780.0 629.2,990.0 628.3,1013.0" fill="none" stroke="#111" stroke-width="1.7"/>
<circle cx="649" cy="293.6" r="2.8" fill="#111"/>
<polyline points="835.9,321.1 666.3,631.1" fill="none" stroke="#111" stroke-width="1.7"/>
<path d="M88,116 V1013.5 H1097" fill="none" stroke="#000" stroke-width="2"/>
<line x1="88" y1="284.7" x2="104.5" y2="284.7" stroke="#000" stroke-width="2"/>
<line x1="88" y1="508.7" x2="104.5" y2="508.7" stroke="#000" stroke-width="2"/>
<line x1="88" y1="732.7" x2="104.5" y2="732.7" stroke="#000" stroke-width="2"/>
<line x1="88" y1="956.7" x2="104.5" y2="956.7" stroke="#000" stroke-width="2"/>
<line x1="145" y1="997.5" x2="145" y2="1013.5" stroke="#000" stroke-width="2"/>
<line x1="369" y1="997.5" x2="369" y2="1013.5" stroke="#000" stroke-width="2"/>
<line x1="593" y1="997.5" x2="593" y2="1013.5" stroke="#000" stroke-width="2"/>
<line x1="817.3" y1="997.5" x2="817.3" y2="1013.5" stroke="#000" stroke-width="2"/>
<line x1="1041" y1="997.5" x2="1041" y2="1013.5" stroke="#000" stroke-width="2"/>
<text x="117.6" y="292.5" font-size="21.3" text-anchor="start" font-weight="normal" fill="#000" stroke="#000" stroke-width="0.3" textLength="40.5" lengthAdjust="spacingAndGlyphs" >1000</text>
<text x="117.6" y="516.5" font-size="21.3" text-anchor="start" font-weight="normal" fill="#000" stroke="#000" stroke-width="0.3" textLength="30.5" lengthAdjust="spacingAndGlyphs" >800</text>
<text x="117.6" y="740.5" font-size="21.3" text-anchor="start" font-weight="normal" fill="#000" stroke="#000" stroke-width="0.3" textLength="30.5" lengthAdjust="spacingAndGlyphs" >600</text>
<text x="117.6" y="964.5" font-size="21.3" text-anchor="start" font-weight="normal" fill="#000" stroke="#000" stroke-width="0.3" textLength="30.5" lengthAdjust="spacingAndGlyphs" >400</text>
<text x="113.5" y="981.5" font-size="21.3" text-anchor="start" font-weight="normal" fill="#000" stroke="#000" stroke-width="0.3" textLength="62.5" lengthAdjust="spacingAndGlyphs" >351000</text>
<text x="337.5" y="981.5" font-size="21.3" text-anchor="start" font-weight="normal" fill="#000" stroke="#000" stroke-width="0.3" textLength="62.5" lengthAdjust="spacingAndGlyphs" >351200</text>
<text x="561.5" y="981.5" font-size="21.3" text-anchor="start" font-weight="normal" fill="#000" stroke="#000" stroke-width="0.3" textLength="62.5" lengthAdjust="spacingAndGlyphs" >351400</text>
<text x="785.8" y="981.5" font-size="21.3" text-anchor="start" font-weight="normal" fill="#000" stroke="#000" stroke-width="0.3" textLength="62.5" lengthAdjust="spacingAndGlyphs" >351600</text>
<text x="1009.5" y="981.5" font-size="21.3" text-anchor="start" font-weight="normal" fill="#000" stroke="#000" stroke-width="0.3" textLength="62.5" lengthAdjust="spacingAndGlyphs" >351800</text>
<text x="89.5" y="82.3" font-size="28" text-anchor="start" font-weight="bold" fill="#000" textLength="29.5" lengthAdjust="spacingAndGlyphs" >W</text>
<text x="1081.2" y="82.3" font-size="28" text-anchor="start" font-weight="bold" fill="#000" textLength="19" lengthAdjust="spacingAndGlyphs" >E</text>
<text x="408.8" y="103.5" font-size="37.5" text-anchor="start" font-weight="normal" fill="#000" stroke="#000" stroke-width="0.3" textLength="428" lengthAdjust="spacingAndGlyphs" >Kwanika Central Deposit</text>
<text x="0" y="0" font-size="19.5" transform="translate(651.4,279.1) rotate(-45)" fill="#000" stroke="#000" stroke-width="0.3" textLength="76.5" lengthAdjust="spacingAndGlyphs">K-25-271</text>
<text x="0" y="0" font-size="19.5" transform="translate(837.8,306.5) rotate(-45)" fill="#000" stroke="#000" stroke-width="0.3" textLength="77" lengthAdjust="spacingAndGlyphs">K-25-278</text>
<text x="66.3" y="1088.2" font-size="37.2" text-anchor="start" font-weight="bold" fill="#000" textLength="506.5" lengthAdjust="spacingAndGlyphs" >Fig 1. Section Looking North</text>
<text x="212" y="1134.4" font-size="21" text-anchor="start" font-weight="normal" fill="#000" stroke="#000" stroke-width="0.3" textLength="26" lengthAdjust="spacingAndGlyphs" >W:</text>
<text x="259.9" y="1134.4" font-size="21" text-anchor="start" font-weight="normal" fill="#000" stroke="#000" stroke-width="0.3" textLength="171" lengthAdjust="spacingAndGlyphs" >350950, 6156275</text>
<text x="212.7" y="1169.4" font-size="21" text-anchor="start" font-weight="normal" fill="#000" stroke="#000" stroke-width="0.3" textLength="22" lengthAdjust="spacingAndGlyphs" >E:</text>
<text x="259.9" y="1169.4" font-size="21" text-anchor="start" font-weight="normal" fill="#000" stroke="#000" stroke-width="0.3" textLength="171" lengthAdjust="spacingAndGlyphs" >351850, 6156275</text>
<text x="254.7" y="1211.8" font-size="21" text-anchor="start" font-weight="normal" fill="#000" stroke="#000" stroke-width="0.3" textLength="140" lengthAdjust="spacingAndGlyphs" >Scale: 1:5,000</text>
<text x="196.7" y="1248.4" font-size="21" text-anchor="start" font-weight="normal" fill="#000" stroke="#000" stroke-width="0.3" textLength="29.5" lengthAdjust="spacingAndGlyphs" >0m</text>
<text x="410.3" y="1248.4" font-size="21" text-anchor="start" font-weight="normal" fill="#000" stroke="#000" stroke-width="0.3" textLength="52.7" lengthAdjust="spacingAndGlyphs" >200m</text>
<rect x="212" y="1253.7" width="56.5" height="13.6" fill="#000"/>
<rect x="212" y="1267.3" width="56.5" height="13.9" fill="#fff"/>
<rect x="268.5" y="1253.7" width="56.10000000000002" height="13.6" fill="#fff"/>
<rect x="268.5" y="1267.3" width="56.10000000000002" height="13.9" fill="#000"/>
<rect x="324.6" y="1253.7" width="56.0" height="13.6" fill="#000"/>
<rect x="324.6" y="1267.3" width="56.0" height="13.9" fill="#fff"/>
<rect x="380.6" y="1253.7" width="56.099999999999966" height="13.6" fill="#fff"/>
<rect x="380.6" y="1267.3" width="56.099999999999966" height="13.9" fill="#000"/>
<rect x="212" y="1253.7" width="224.7" height="27.5" fill="none" stroke="#000" stroke-width="1.2"/>
<text x="67.3" y="1407.2" font-size="21" text-anchor="start" font-weight="normal" fill="#000" stroke="#000" stroke-width="0.3" textLength="191" lengthAdjust="spacingAndGlyphs" >By: G. Chinn P.Geo.</text>
<text x="67.3" y="1434.6" font-size="21" text-anchor="start" font-weight="normal" fill="#000" stroke="#000" stroke-width="0.3" textLength="173" lengthAdjust="spacingAndGlyphs" >Date: 2025-11-17</text>
<text x="809.5" y="1063.6" font-size="23" text-anchor="start" font-weight="bold" fill="#000" textLength="85" lengthAdjust="spacingAndGlyphs" >Legend</text>
<text x="606.2" y="1098.3" font-size="22" text-anchor="start" font-weight="normal" fill="#000" stroke="#000" stroke-width="0.3" textLength="322.3" lengthAdjust="spacingAndGlyphs" >Target Model (NR April 10, 2025)</text>
<rect x="605.5" y="1105.1" width="25.9" height="25.9" fill="#7f7f66" stroke="#333" stroke-width="1.8"/>
<text x="644" y="1125.8" font-size="21" text-anchor="start" font-weight="normal" fill="#000" stroke="#000" stroke-width="0.3" textLength="116" lengthAdjust="spacingAndGlyphs" >Overburden</text>
<rect x="605.5" y="1139.0" width="25.9" height="25.9" fill="#d0c87a" stroke="#333" stroke-width="1.8"/>
<text x="644" y="1159.7" font-size="21" text-anchor="start" font-weight="normal" fill="#000" stroke="#000" stroke-width="0.3" textLength="102" lengthAdjust="spacingAndGlyphs" >Sediments</text>
<rect x="605.5" y="1172.8" width="25.9" height="25.9" fill="#ffc0cb" stroke="#333" stroke-width="1.8"/>
<text x="644" y="1193.5" font-size="21" text-anchor="start" font-weight="normal" fill="#000" stroke="#000" stroke-width="0.3" textLength="100" lengthAdjust="spacingAndGlyphs" >Monzonite</text>
<rect x="605.5" y="1206.3" width="25.9" height="25.9" fill="#008000" stroke="#333" stroke-width="1.8"/>
<text x="644" y="1227.0" font-size="21" text-anchor="start" font-weight="normal" fill="#000" stroke="#000" stroke-width="0.3" textLength="136" lengthAdjust="spacingAndGlyphs" >1 Western HG</text>
<rect x="792.1999999999999" y="1105.1" width="25.9" height="25.9" fill="#a52a2a" stroke="#333" stroke-width="1.8"/>
<text x="831.2" y="1125.8" font-size="21" text-anchor="start" font-weight="normal" fill="#000" stroke="#000" stroke-width="0.3" textLength="135.5" lengthAdjust="spacingAndGlyphs" >2 Western HG</text>
<rect x="792.1999999999999" y="1139.0" width="25.9" height="25.9" fill="#cc3300" stroke="#333" stroke-width="1.8"/>
<text x="831.2" y="1159.7" font-size="21" text-anchor="start" font-weight="normal" fill="#000" stroke="#000" stroke-width="0.3" textLength="124.5" lengthAdjust="spacingAndGlyphs" >4 Central HG</text>
<rect x="792.1999999999999" y="1172.8" width="25.9" height="25.9" fill="#a87a7a" stroke="#333" stroke-width="1.8"/>
<text x="831.2" y="1193.5" font-size="21" text-anchor="start" font-weight="normal" fill="#000" stroke="#000" stroke-width="0.3" textLength="80" lengthAdjust="spacingAndGlyphs" >5 Pit HG</text>
<rect x="792.1999999999999" y="1206.3" width="25.9" height="25.9" fill="#90ee90" stroke="#333" stroke-width="1.8"/>
<text x="831.2" y="1227.0" font-size="21" text-anchor="start" font-weight="normal" fill="#000" stroke="#000" stroke-width="0.3" textLength="124.5" lengthAdjust="spacingAndGlyphs" >6 Central HG</text>
<rect x="979.1999999999999" y="1105.1" width="25.9" height="25.9" fill="#a6d3e3" stroke="#333" stroke-width="1.8"/>
<text x="1017.6" y="1125.8" font-size="21" text-anchor="start" font-weight="normal" fill="#000" stroke="#000" stroke-width="0.3" textLength="76.3" lengthAdjust="spacingAndGlyphs" >8 Pit LG</text>
<text x="606" y="1294.6" font-size="21.5" text-anchor="start" font-weight="normal" fill="#000" stroke="#000" stroke-width="0.3" textLength="183" lengthAdjust="spacingAndGlyphs" >Cu % (left of hole)</text>
<rect x="605.5" y="1303.7" width="25.9" height="25.9" fill="#e6e6e6" stroke="#333" stroke-width="1.8"/>
<text x="644.2" y="1323.9" font-size="21" text-anchor="start" font-weight="normal" fill="#000" stroke="#000" stroke-width="0.3" textLength="52" lengthAdjust="spacingAndGlyphs" >≤ 0.2</text>
<rect x="710.8" y="1303.7" width="25.9" height="25.9" fill="#90ee90" stroke="#333" stroke-width="1.8"/>
<text x="749.5" y="1323.9" font-size="21" text-anchor="start" font-weight="normal" fill="#000" stroke="#000" stroke-width="0.3" textLength="52" lengthAdjust="spacingAndGlyphs" >≤ 0.8</text>
<rect x="816.0" y="1303.7" width="25.9" height="25.9" fill="#ffa500" stroke="#333" stroke-width="1.8"/>
<text x="856.1" y="1323.9" font-size="21" text-anchor="start" font-weight="normal" fill="#000" stroke="#000" stroke-width="0.3" textLength="52" lengthAdjust="spacingAndGlyphs" >≤ 1.2</text>
<rect x="921.5999999999999" y="1303.7" width="25.9" height="25.9" fill="#ff00ff" stroke="#333" stroke-width="1.8"/>
<text x="961.4" y="1323.9" font-size="21" text-anchor="start" font-weight="normal" fill="#000" stroke="#000" stroke-width="0.3" textLength="52" lengthAdjust="spacingAndGlyphs" >≥ 1.5</text>
<rect x="605.5" y="1337.1" width="25.9" height="25.9" fill="#add8e6" stroke="#333" stroke-width="1.8"/>
<text x="644.2" y="1357.3" font-size="21" text-anchor="start" font-weight="normal" fill="#000" stroke="#000" stroke-width="0.3" textLength="52" lengthAdjust="spacingAndGlyphs" >≤ 0.5</text>
<rect x="710.8" y="1337.1" width="25.9" height="25.9" fill="#ffff00" stroke="#333" stroke-width="1.8"/>
<text x="749.5" y="1357.3" font-size="21" text-anchor="start" font-weight="normal" fill="#000" stroke="#000" stroke-width="0.3" textLength="31" lengthAdjust="spacingAndGlyphs" >≤ 1</text>
<rect x="816.0" y="1337.1" width="25.9" height="25.9" fill="#ff0000" stroke="#333" stroke-width="1.8"/>
<text x="856.1" y="1357.3" font-size="21" text-anchor="start" font-weight="normal" fill="#000" stroke="#000" stroke-width="0.3" textLength="52" lengthAdjust="spacingAndGlyphs" >< 1.5</text>
<text x="605.8" y="1428" font-size="21.5" text-anchor="start" font-weight="normal" fill="#000" stroke="#000" stroke-width="0.3" textLength="204" lengthAdjust="spacingAndGlyphs" >Au g/t (right of hole)</text>
<rect x="605.5" y="1433.8" width="25.9" height="25.9" fill="#e6e6fa" stroke="#333" stroke-width="1.8"/>
<text x="644.2" y="1454" font-size="21" text-anchor="start" font-weight="normal" fill="#000" stroke="#000" stroke-width="0.3" textLength="52" lengthAdjust="spacingAndGlyphs" >≤ 0.2</text>
<rect x="710.8" y="1433.8" width="25.9" height="25.9" fill="#90ee90" stroke="#333" stroke-width="1.8"/>
<text x="749.5" y="1454" font-size="21" text-anchor="start" font-weight="normal" fill="#000" stroke="#000" stroke-width="0.3" textLength="52" lengthAdjust="spacingAndGlyphs" >≤ 0.8</text>
<rect x="816.0" y="1433.8" width="25.9" height="25.9" fill="#ffa500" stroke="#333" stroke-width="1.8"/>
<text x="856.1" y="1454" font-size="21" text-anchor="start" font-weight="normal" fill="#000" stroke="#000" stroke-width="0.3" textLength="52" lengthAdjust="spacingAndGlyphs" >≤ 1.2</text>
<rect x="921.5999999999999" y="1433.8" width="25.9" height="25.9" fill="#ff00ff" stroke="#333" stroke-width="1.8"/>
<text x="961.4" y="1454" font-size="21" text-anchor="start" font-weight="normal" fill="#000" stroke="#000" stroke-width="0.3" textLength="52" lengthAdjust="spacingAndGlyphs" >&gt; 1.5</text>
<rect x="605.5" y="1467.3" width="25.9" height="25.9" fill="#add8e6" stroke="#333" stroke-width="1.8"/>
<text x="644.2" y="1487.5" font-size="21" text-anchor="start" font-weight="normal" fill="#000" stroke="#000" stroke-width="0.3" textLength="52" lengthAdjust="spacingAndGlyphs" >≤ 0.5</text>
<rect x="710.8" y="1467.3" width="25.9" height="25.9" fill="#ffff00" stroke="#333" stroke-width="1.8"/>
<text x="749.5" y="1487.5" font-size="21" text-anchor="start" font-weight="normal" fill="#000" stroke="#000" stroke-width="0.3" textLength="31" lengthAdjust="spacingAndGlyphs" >≤ 1</text>
<rect x="816.0" y="1467.3" width="25.9" height="25.9" fill="#ff0000" stroke="#333" stroke-width="1.8"/>
<text x="856.1" y="1487.5" font-size="21" text-anchor="start" font-weight="normal" fill="#000" stroke="#000" stroke-width="0.3" textLength="52" lengthAdjust="spacingAndGlyphs" >≤ 1.5</text>
<text x="56.5" y="1498.4" font-size="53" fill="#0d3a61" stroke="#0d3a61" stroke-width="1.7" textLength="237" lengthAdjust="spacingAndGlyphs">NorthWest</text>
<text x="293.5" y="1498.4" font-size="53" fill="#1c94d3" stroke="#1c94d3" stroke-width="1.2" textLength="159" lengthAdjust="spacingAndGlyphs">copper</text>
<rect x="330.3" y="1467" width="7.4" height="9.5" fill="#fff"/><rect x="330.5" y="1476.2" width="6.3" height="7" fill="#0d3a61"/>
</svg>
</body></html>
